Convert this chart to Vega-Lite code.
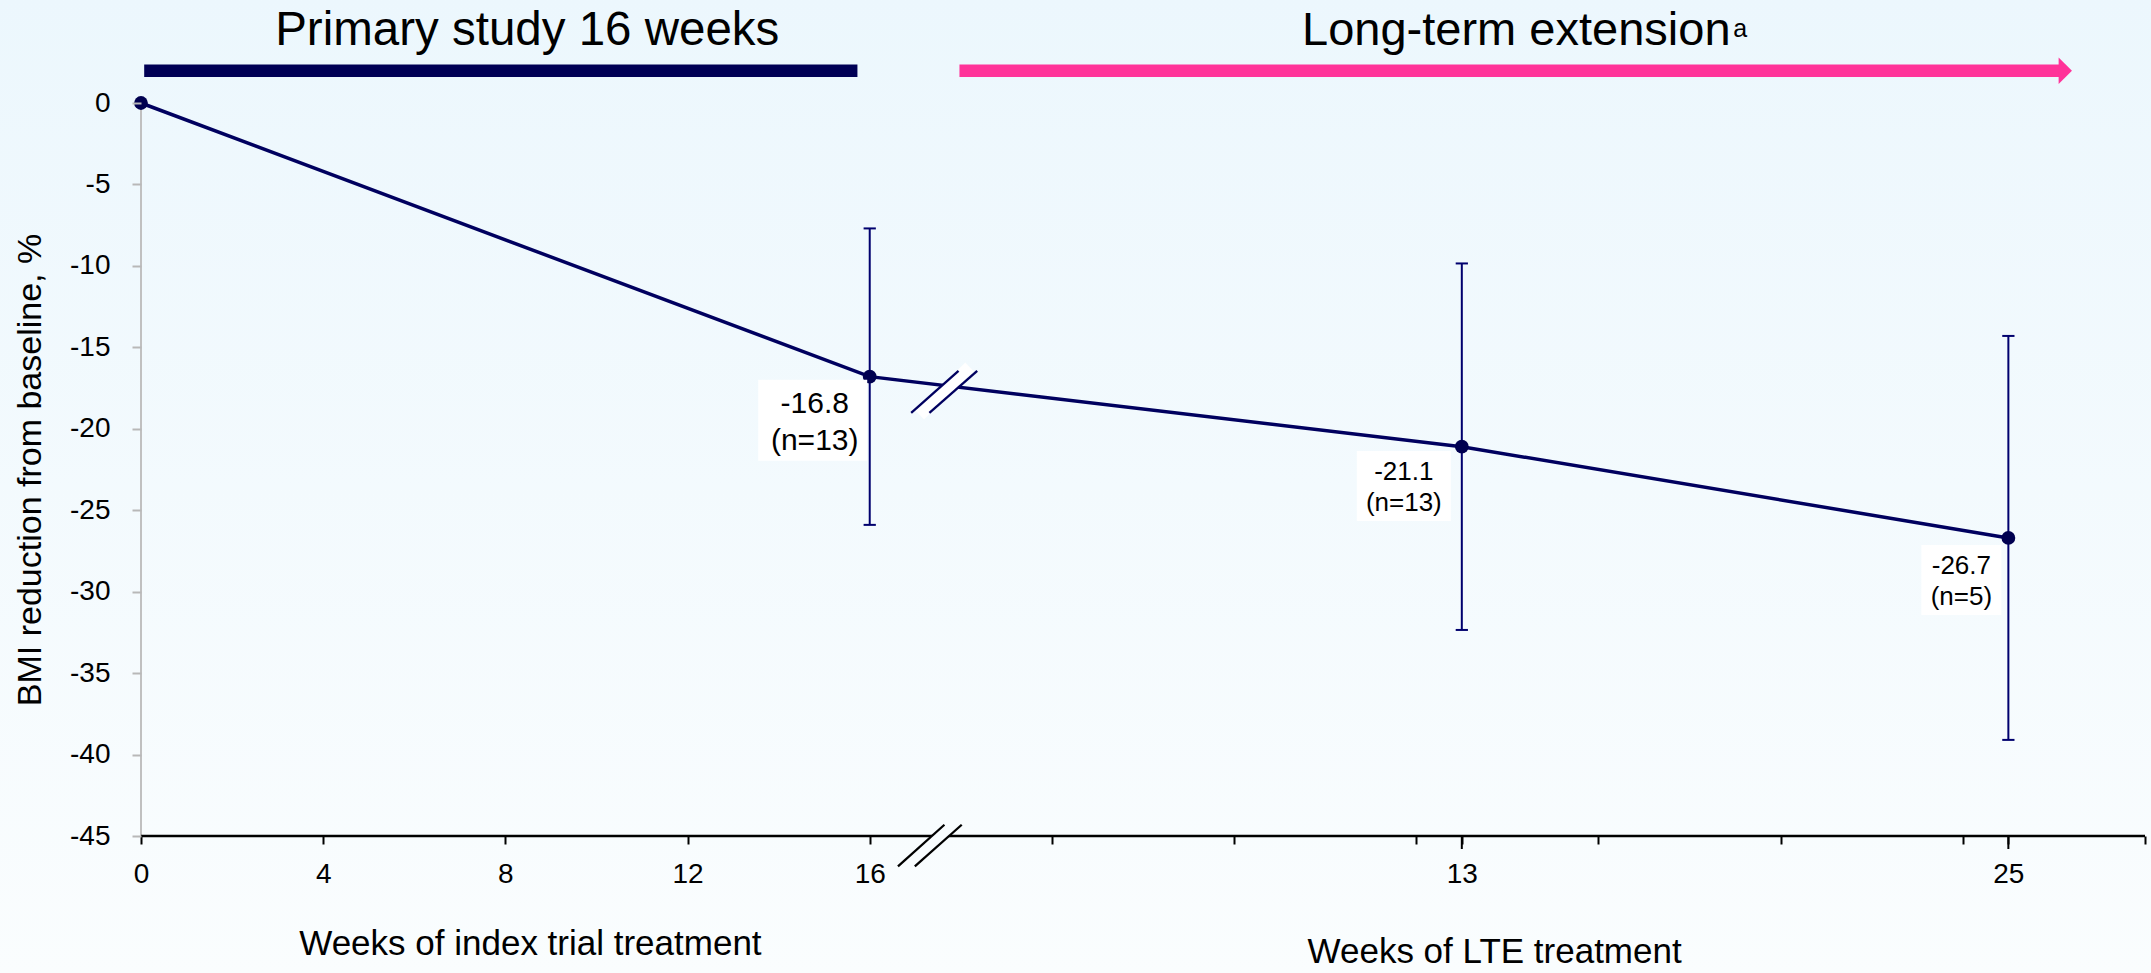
{
  "$schema": "https://vega.github.io/schema/vega-lite/v6.json",
  "width": 2004,
  "height": 733,
  "autosize": {"type": "none"},
  "padding": {"left": 141, "top": 103, "right": 6, "bottom": 137},
  "background": "#f3f9fd",
  "config": {
    "view": {"stroke": null},
    "font": "Liberation Sans",
    "text": {"font": "Liberation Sans", "color": "#000000"}
  },
  "datasets": {
    "bmi": [
      {"week": 0, "lte_week": null, "bmi": 0, "n": null, "lo": null, "hi": null},
      {"week": 16, "lte_week": 0, "bmi": -16.8, "n": 13, "lo": -25.9, "hi": -7.7},
      {"week": 29, "lte_week": 13, "bmi": -21.1, "n": 13, "lo": -32.35, "hi": -9.85},
      {"week": 41, "lte_week": 25, "bmi": -26.7, "n": 5, "lo": -39.1, "hi": -14.3}
    ]
  },
  "data": {"name": "bmi"},
  "layer": [
    {
      "data": {"values": [{}]},
      "mark": {
        "type": "rect",
        "fill": {
          "gradient": "linear", "x1": 0, "y1": 0, "x2": 0, "y2": 1,
          "stops": [{"offset": 0, "color": "#ecf7fd"}, {"offset": 1, "color": "#fafdfe"}]
        }
      },
      "encoding": {
        "x": {"datum": -3.3, "type": "quantitative"},
        "x2": {"datum": 44.3},
        "y": {"datum": 6.5, "type": "quantitative"},
        "y2": {"datum": -53.6}
      }
    },
    {
      "data": {"values": [{}]},
      "mark": {"type": "rule", "stroke": "#c0c0c0", "strokeWidth": 2},
      "encoding": {
        "x": {"datum": 0, "type": "quantitative"},
        "y": {"datum": 0, "type": "quantitative"},
        "y2": {"datum": -45}
      }
    },
    {
      "data": {"values": [{}]},
      "mark": {"type": "rule", "stroke": "#000000", "strokeWidth": 2.5},
      "encoding": {
        "x": {"datum": 0, "type": "quantitative"},
        "x2": {"datum": 44},
        "y": {"datum": -45, "type": "quantitative"}
      }
    },
    {
      "transform": [{"filter": "datum.week >= 29"}],
      "mark": {"type": "rule", "stroke": "#000000", "strokeWidth": 2},
      "encoding": {
        "x": {"field": "week", "type": "quantitative"},
        "y": {"datum": -45, "type": "quantitative"},
        "y2": {"datum": -45.8}
      }
    },
    {
      "data": {"values": [{}]},
      "mark": {"type": "rule", "stroke": "#f8fcfe", "strokeWidth": 11},
      "encoding": {
        "x": {"datum": 16.8, "type": "quantitative"},
        "x2": {"datum": 17.83},
        "y": {"datum": -46.87, "type": "quantitative"},
        "y2": {"datum": -44.31}
      }
    },
    {
      "data": {"values": [{"a": 16.62, "b": 17.64}, {"a": 16.99, "b": 18.02}]},
      "mark": {"type": "rule", "stroke": "#000000", "strokeWidth": 2.3},
      "encoding": {
        "x": {"field": "a", "type": "quantitative"},
        "x2": {"field": "b"},
        "y": {"datum": -46.87, "type": "quantitative"},
        "y2": {"datum": -44.31}
      }
    },
    {
      "mark": {"type": "line", "stroke": "#00005f", "strokeWidth": 3.5},
      "encoding": {
        "x": {
          "field": "week",
          "type": "quantitative",
          "scale": {"domain": [0, 44], "nice": false, "zero": false},
          "axis": {
            "title": null,
            "values": [0, 4, 8, 12, 16, 20, 24, 28, 29, 32, 36, 40, 41, 44],
            "labelExpr": "datum.value <= 16 ? toString(datum.value) : datum.value == 29 ? '13' : datum.value == 41 ? '25' : ''",
            "domain": false,
            "grid": false,
            "ticks": true,
            "tickColor": "#000000",
            "tickWidth": 2,
            "tickSize": 8,
            "labelFont": "Liberation Sans",
            "labelFontSize": 28,
            "labelColor": "#000000",
            "labelPadding": 16,
            "labelFlush": false,
            "labelOverlap": false,
            "zindex": 1
          }
        },
        "y": {
          "field": "bmi",
          "type": "quantitative",
          "scale": {"domain": [-45, 0], "nice": false, "zero": false},
          "axis": {
            "title": "BMI reduction from baseline, %",
            "titleFont": "Liberation Sans",
            "titleFontSize": 34,
            "titleFontWeight": "normal",
            "titleColor": "#000000",
            "titlePadding": 22,
            "values": [0, -5, -10, -15, -20, -25, -30, -35, -40, -45],
            "labelExpr": "toString(datum.value)",
            "domain": false,
            "grid": false,
            "tickColor": "#b8b8b8",
            "tickWidth": 2,
            "tickSize": 9,
            "labelFont": "Liberation Sans",
            "labelFontSize": 28,
            "labelColor": "#000000",
            "labelPadding": 22,
            "labelOverlap": false,
            "zindex": 1
          }
        }
      }
    },
    {
      "data": {"values": [{}]},
      "mark": {"type": "rule", "stroke": "#ffffff", "strokeWidth": 12},
      "encoding": {
        "x": {"datum": 17.1, "type": "quantitative"},
        "x2": {"datum": 18.19},
        "y": {"datum": -19.16, "type": "quantitative"},
        "y2": {"datum": -16.2}
      }
    },
    {
      "data": {"values": [{"a": 16.91, "b": 17.95}, {"a": 17.31, "b": 18.36}]},
      "mark": {"type": "rule", "stroke": "#00005f", "strokeWidth": 2.3},
      "encoding": {
        "x": {"field": "a", "type": "quantitative"},
        "x2": {"field": "b"},
        "y": {"datum": -19.02, "type": "quantitative"},
        "y2": {"datum": -16.44}
      }
    },
    {
      "transform": [{"filter": "isValid(datum.lo)"}],
      "mark": {"type": "rule", "stroke": "#00006e", "strokeWidth": 2},
      "encoding": {
        "x": {"field": "week", "type": "quantitative"},
        "y": {"field": "lo", "type": "quantitative"},
        "y2": {"field": "hi"}
      }
    },
    {
      "transform": [{"filter": "isValid(datum.lo)"}],
      "mark": {"type": "point", "shape": "stroke", "size": 150, "filled": false, "stroke": "#00006e", "strokeWidth": 2, "opacity": 1},
      "encoding": {
        "x": {"field": "week", "type": "quantitative"},
        "y": {"field": "lo", "type": "quantitative"}
      }
    },
    {
      "transform": [{"filter": "isValid(datum.hi)"}],
      "mark": {"type": "point", "shape": "stroke", "size": 150, "filled": false, "stroke": "#00006e", "strokeWidth": 2, "opacity": 1},
      "encoding": {
        "x": {"field": "week", "type": "quantitative"},
        "y": {"field": "hi", "type": "quantitative"}
      }
    },
    {
      "mark": {"type": "point", "filled": true, "size": 190, "color": "#000050", "opacity": 1},
      "encoding": {
        "x": {"field": "week", "type": "quantitative"},
        "y": {"field": "bmi", "type": "quantitative"}
      }
    },
    {
      "transform": [{"filter": "datum.week == 16"}],
      "mark": {"type": "point", "shape": "M-1.3457,-1H1.3457V1H-1.3457Z", "size": 6561, "filled": true, "color": "#ffffff", "opacity": 1, "xOffset": -57, "yOffset": 43.5},
      "encoding": {
        "x": {"field": "week", "type": "quantitative"},
        "y": {"field": "bmi", "type": "quantitative"}
      }
    },
    {
      "transform": [{"filter": "datum.week == 29"}],
      "mark": {"type": "point", "shape": "M-1.3429,-1H1.3429V1H-1.3429Z", "size": 4900, "filled": true, "color": "#ffffff", "opacity": 1, "xOffset": -58, "yOffset": 39.3},
      "encoding": {
        "x": {"field": "week", "type": "quantitative"},
        "y": {"field": "bmi", "type": "quantitative"}
      }
    },
    {
      "transform": [{"filter": "datum.week == 41"}],
      "mark": {"type": "point", "shape": "M-1.1429,-1H1.1429V1H-1.1429Z", "size": 4900, "filled": true, "color": "#ffffff", "opacity": 1, "xOffset": -47, "yOffset": 42},
      "encoding": {
        "x": {"field": "week", "type": "quantitative"},
        "y": {"field": "bmi", "type": "quantitative"}
      }
    },
    {
      "transform": [
        {"filter": "datum.week == 16"},
        {"calculate": "[toString(datum.bmi), '(n=' + datum.n + ')']", "as": "label"}
      ],
      "mark": {"type": "text", "fontSize": 30, "lineHeight": 37, "align": "center", "baseline": "middle", "dx": -55, "dy": 27},
      "encoding": {
        "x": {"field": "week", "type": "quantitative"},
        "y": {"field": "bmi", "type": "quantitative"},
        "text": {"field": "label"}
      }
    },
    {
      "transform": [
        {"filter": "datum.week == 29"},
        {"calculate": "[toString(datum.bmi), '(n=' + datum.n + ')']", "as": "label"}
      ],
      "mark": {"type": "text", "fontSize": 26, "lineHeight": 31, "align": "center", "baseline": "middle", "dx": -58, "dy": 25},
      "encoding": {
        "x": {"field": "week", "type": "quantitative"},
        "y": {"field": "bmi", "type": "quantitative"},
        "text": {"field": "label"}
      }
    },
    {
      "transform": [
        {"filter": "datum.week == 41"},
        {"calculate": "[toString(datum.bmi), '(n=' + datum.n + ')']", "as": "label"}
      ],
      "mark": {"type": "text", "fontSize": 26, "lineHeight": 31, "align": "center", "baseline": "middle", "dx": -47, "dy": 28},
      "encoding": {
        "x": {"field": "week", "type": "quantitative"},
        "y": {"field": "bmi", "type": "quantitative"},
        "text": {"field": "label"}
      }
    },
    {
      "data": {"values": [{}]},
      "mark": {"type": "rule", "stroke": "#000055", "strokeWidth": 12.5, "strokeCap": "butt"},
      "encoding": {
        "x": {"datum": 0.07, "type": "quantitative"},
        "x2": {"datum": 15.73},
        "y": {"datum": 1.98, "type": "quantitative"}
      }
    },
    {
      "data": {"values": [{}]},
      "mark": {"type": "rule", "stroke": "#ff3399", "strokeWidth": 12.5, "strokeCap": "butt"},
      "encoding": {
        "x": {"datum": 17.97, "type": "quantitative"},
        "x2": {"datum": 42.12},
        "y": {"datum": 1.98, "type": "quantitative"}
      }
    },
    {
      "data": {"values": [{}]},
      "mark": {"type": "point", "shape": "M-0.5,-1L0.5,0L-0.5,1Z", "size": 713, "filled": true, "color": "#ff3399", "opacity": 1},
      "encoding": {
        "x": {"datum": 42.25, "type": "quantitative"},
        "y": {"datum": 1.98, "type": "quantitative"}
      }
    },
    {
      "data": {"values": [{}]},
      "mark": {"type": "text", "fontSize": 47.5, "align": "center", "baseline": "alphabetic"},
      "encoding": {
        "x": {"datum": 8.48, "type": "quantitative"},
        "y": {"datum": 3.56, "type": "quantitative"},
        "text": {"value": "Primary study 16 weeks"}
      }
    },
    {
      "data": {"values": [{}]},
      "mark": {"type": "text", "fontSize": 47, "align": "right", "baseline": "alphabetic"},
      "encoding": {
        "x": {"datum": 34.9, "type": "quantitative"},
        "y": {"datum": 3.56, "type": "quantitative"},
        "text": {"value": "Long-term extension"}
      }
    },
    {
      "data": {"values": [{}]},
      "mark": {"type": "text", "fontSize": 25, "align": "left", "baseline": "alphabetic"},
      "encoding": {
        "x": {"datum": 34.96, "type": "quantitative"},
        "y": {"datum": 4.05, "type": "quantitative"},
        "text": {"value": "a"}
      }
    },
    {
      "data": {"values": [{}]},
      "mark": {"type": "text", "fontSize": 35, "align": "center", "baseline": "alphabetic"},
      "encoding": {
        "x": {"datum": 8.55, "type": "quantitative"},
        "y": {"datum": -52.33, "type": "quantitative"},
        "text": {"value": "Weeks of index trial treatment"}
      }
    },
    {
      "data": {"values": [{}]},
      "mark": {"type": "text", "fontSize": 35, "align": "center", "baseline": "alphabetic"},
      "encoding": {
        "x": {"datum": 29.72, "type": "quantitative"},
        "y": {"datum": -52.81, "type": "quantitative"},
        "text": {"value": "Weeks of LTE treatment"}
      }
    }
  ]
}
